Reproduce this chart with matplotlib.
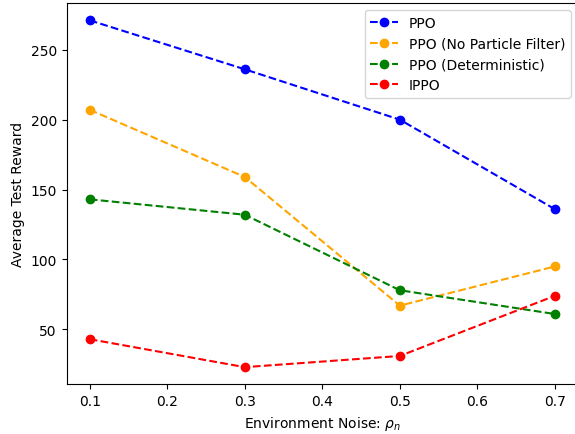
import matplotlib
matplotlib.use("Agg")
import matplotlib.pyplot as plt

noise = [0.1, 0.3, 0.5, 0.7]
ppo = [271, 236, 200, 136]
ppo_no_pf = [207, 159, 67, 95]
ppo_det = [143, 132, 78, 61]
ippo = [43, 23, 31, 74]

fig = plt.figure(figsize=(5.75, 4.35), dpi=100)
ax = fig.add_axes([0.1157, 0.1138, 0.8896, 0.877])
ax.plot(noise, ppo, "o--", color="blue", label="PPO")
ax.plot(noise, ppo_no_pf, "o--", color="orange", label="PPO (No Particle Filter)")
ax.plot(noise, ppo_det, "o--", color="green", label="PPO (Deterministic)")
ax.plot(noise, ippo, "o--", color="red", label="IPPO")

ax.set_xlabel(r"Environment Noise: $\rho_n$")
ax.set_ylabel("Average Test Reward")
ax.legend(loc="upper right")
fig.savefig("out.png")
